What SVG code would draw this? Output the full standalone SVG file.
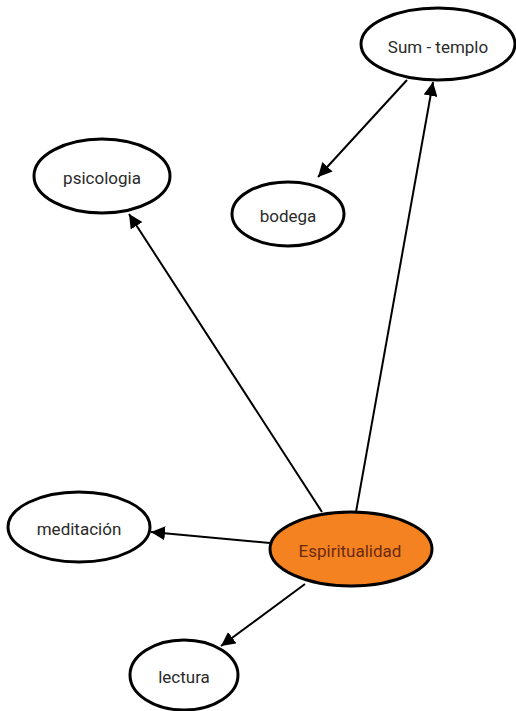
<svg xmlns="http://www.w3.org/2000/svg" width="516" height="711" viewBox="0 0 516 711">
<defs>
<style>
.node{fill:#fff;stroke:#000;stroke-width:3}
.main{fill:#f58220;stroke:#000;stroke-width:3}
.lbl{font-family:Roboto,"Liberation Sans",sans-serif;font-size:17px;fill:#2a2a2a;text-anchor:middle}
.mlbl{font-family:Roboto,"Liberation Sans",sans-serif;font-size:17px;fill:#6b2a10;text-anchor:middle}
.edge{stroke:#000;stroke-width:2;fill:none;marker-end:url(#arr)}
</style>
<marker id="arr" viewBox="0 0 10 10" refX="10" refY="5" markerWidth="7" markerHeight="7" markerUnits="strokeWidth" orient="auto">
<path d="M0,0 L10,5 L0,10 z" fill="#000"/>
</marker>
</defs>
<rect width="516" height="711" fill="#fff"/>
<g id="connectors">
<line class="edge" x1="407" y1="80" x2="318" y2="177"/>
<line class="edge" x1="356" y1="512" x2="433" y2="82"/>
<line class="edge" x1="322" y1="512" x2="129" y2="214"/>
<line class="edge" x1="270" y1="543" x2="151" y2="532"/>
<line class="edge" x1="305" y1="584" x2="221" y2="646"/>
</g>
<g id="sum-templo"><ellipse class="node" cx="438" cy="44" rx="77" ry="36"/><text class="lbl" x="438" y="53">Sum - templo</text></g>
<g id="psicologia"><ellipse class="node" cx="102" cy="176" rx="68" ry="37"/><text class="lbl" x="102" y="184">psicologia</text></g>
<g id="bodega"><ellipse class="node" cx="288" cy="214" rx="56" ry="32"/><text class="lbl" x="288" y="222">bodega</text></g>
<g id="meditacion"><ellipse class="node" cx="79" cy="527" rx="71" ry="35"/><text class="lbl" x="79" y="535">meditación</text></g>
<g id="espiritualidad"><ellipse class="main" cx="351" cy="549" rx="81" ry="37"/><text class="mlbl" x="350" y="557">Espiritualidad</text></g>
<g id="lectura"><ellipse class="node" cx="184" cy="675" rx="54" ry="35"/><text class="lbl" x="184" y="683">lectura</text></g>
</svg>
